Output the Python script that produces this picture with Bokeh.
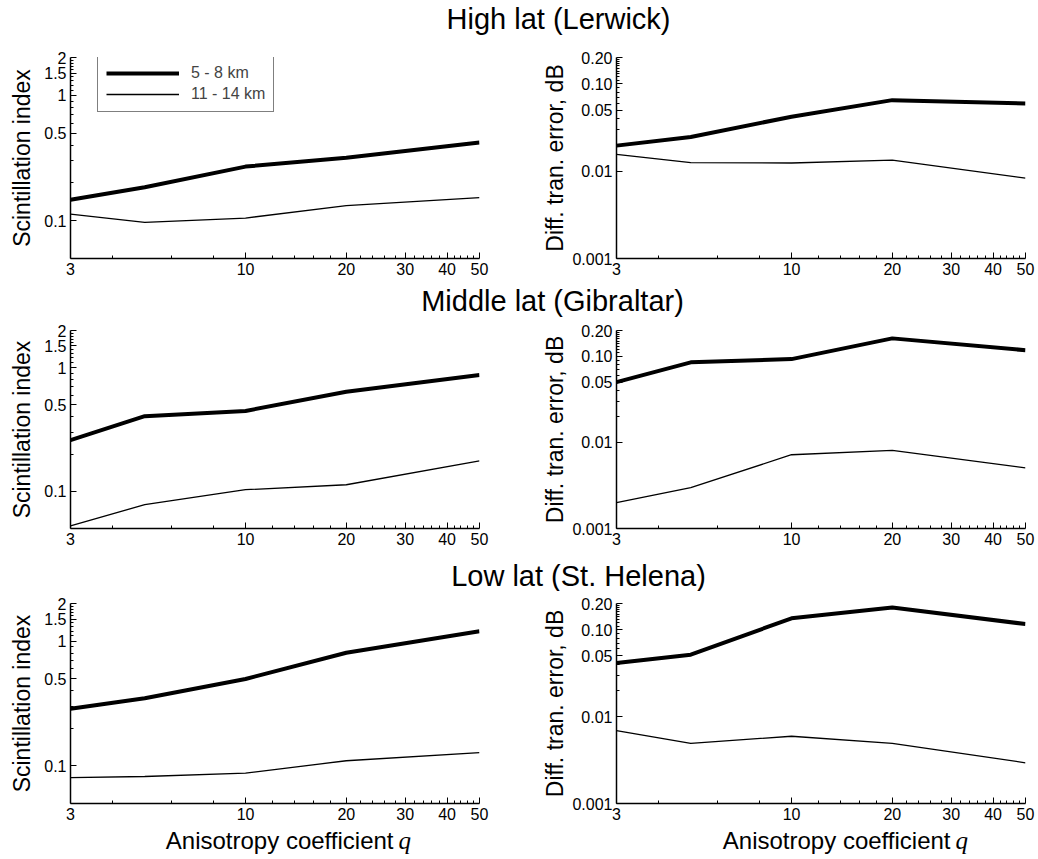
from bokeh.plotting import figure
from bokeh.layouts import column, row
from bokeh.models import FixedTicker, CustomJSTickFormatter, Legend, LegendItem, Range1d
from bokeh.core.properties import value
from bokeh.embed import file_html
from bokeh.resources import INLINE

# ---------------- data ----------------
q = [3, 5, 10, 20, 50]
titles = ["High lat (Lerwick)", "Middle lat (Gibraltar)", "Low lat (St. Helena)"]
series_labels = ["5 - 8 km", "11 - 14 km"]

# Scintillation index
si_high_5_8 = [0.147, 0.185, 0.27, 0.318, 0.42]
si_high_11_14 = [0.113, 0.097, 0.105, 0.132, 0.153]
si_mid_5_8 = [0.259, 0.405, 0.447, 0.638, 0.873]
si_mid_11_14 = [0.0525, 0.078, 0.103, 0.113, 0.176]
si_low_5_8 = [0.287, 0.348, 0.497, 0.807, 1.2]
si_low_11_14 = [0.0807, 0.0823, 0.0875, 0.110, 0.128]

# Differential transmission error, dB
dte_high_5_8 = [0.0196, 0.0246, 0.042, 0.065, 0.0596]
dte_high_11_14 = [0.0156, 0.0125, 0.0124, 0.0134, 0.0083]
dte_mid_5_8 = [0.0502, 0.0853, 0.093, 0.162, 0.118]
dte_mid_11_14 = [0.0020, 0.00298, 0.0072, 0.0081, 0.00507]
dte_low_5_8 = [0.0414, 0.0516, 0.135, 0.18, 0.116]
dte_low_11_14 = [0.0069, 0.00493, 0.00594, 0.00493, 0.00294]

x_major = [3, 10, 20, 30, 40, 50]
x_minor = [4, 6, 8, 12, 14, 16, 18, 22, 24, 26, 28, 32, 34, 36, 38, 42, 44, 46, 48]
si_major = [0.1, 0.5, 1, 1.5, 2]
si_minor = [0.2, 0.3, 0.4, 0.6, 0.7, 0.8, 0.9, 1.1, 1.2, 1.3, 1.4, 1.6, 1.7, 1.8, 1.9]
dte_major = [0.001, 0.01, 0.05, 0.1, 0.2]
dte_minor = [0.02, 0.03, 0.04, 0.06, 0.07, 0.08, 0.09, 0.11, 0.12, 0.13, 0.14,
             0.15, 0.16, 0.17, 0.18, 0.19]

si_label = "Scintillation index"
dte_label = "Diff. tran. error, dB"
xlabel_main = "Anisotropy coefficient"
xlabel_sym = "q"

FONT = "Liberation Sans"
W = 1038
PANEL_W = 519


def style_axis(ax, major, minor, fmt_code, tick_size="16px"):
    ax.ticker = FixedTicker(ticks=major, minor_ticks=minor)
    ax.formatter = CustomJSTickFormatter(code=fmt_code)
    ax.axis_line_color = "black"
    ax.axis_line_width = 1.5
    ax.major_tick_in = 6
    ax.major_tick_out = 0
    ax.minor_tick_in = 3
    ax.minor_tick_out = 0
    ax.major_tick_line_color = "black"
    ax.minor_tick_line_color = "black"
    ax.major_label_text_font = FONT
    ax.major_label_text_font_size = tick_size
    ax.major_label_text_color = "black"


X_FMT = "return String(Number(tick.toPrecision(3)));"
SI_FMT = "return String(Number(tick.toPrecision(3)));"
DTE_FMT = "if (tick >= 0.05) { return tick.toFixed(2); } return String(Number(tick.toPrecision(3)));"


def panel(kind, ys_thick, ys_thin, height, top, bottom, legend=False):
    if kind == "si":
        yr = Range1d(0.05, 2)
        bl, br = 70, 40
    else:
        yr = Range1d(0.001, 0.2)
        bl, br = 97, 13
    p = figure(width=PANEL_W, height=height, x_axis_type="log", y_axis_type="log",
               x_range=Range1d(3, 50), y_range=yr,
               toolbar_location=None, output_backend="svg",
               min_border_left=bl, min_border_right=br,
               min_border_top=top, min_border_bottom=bottom)
    p.grid.visible = False
    p.outline_line_color = None
    p.background_fill_color = "white"
    p.border_fill_color = "white"
    style_axis(p.xaxis[0], x_major, x_minor, X_FMT)
    p.xaxis[0].major_label_standoff = 4
    if kind == "si":
        style_axis(p.yaxis[0], si_major, si_minor, SI_FMT)
        p.yaxis[0].axis_label = si_label
        p.yaxis[0].axis_label_standoff = 6
    else:
        style_axis(p.yaxis[0], dte_major, dte_minor, DTE_FMT)
        p.yaxis[0].axis_label = dte_label
        p.yaxis[0].axis_label_standoff = 1
    p.yaxis[0].major_label_standoff = 4
    p.yaxis[0].axis_label_text_font = FONT
    p.yaxis[0].axis_label_text_font_size = "23px"
    p.yaxis[0].axis_label_text_font_style = "normal"
    p.yaxis[0].axis_label_text_color = "black"

    r1 = p.line(q, ys_thick, line_width=4, line_color="black")
    r2 = p.line(q, ys_thin, line_width=1.3, line_color="black")
    if legend:
        lg = Legend(items=[LegendItem(label=series_labels[0], renderers=[r1]),
                           LegendItem(label=series_labels[1], renderers=[r2])],
                    location=(27, 146))
        lg.border_line_color = "black"
        lg.border_line_width = 1
        lg.background_fill_color = "white"
        lg.background_fill_alpha = 1
        lg.label_text_font = FONT
        lg.label_text_font_size = "16px"
        lg.glyph_width = 73
        lg.glyph_height = 16
        lg.label_standoff = 12
        lg.padding = 8
        lg.spacing = 3
        lg.margin = 0
        p.add_layout(lg)
    return p


def text_strip(height, items):
    f = figure(width=W, height=height, x_range=Range1d(0, W), y_range=Range1d(0, height),
               toolbar_location=None, output_backend="svg",
               x_axis_location=None, y_axis_location=None, min_border=0)
    f.grid.visible = False
    f.outline_line_color = None
    for (x, y_from_top, txt, font, size, style, align) in items:
        f.text(x=[x], y=[height - y_from_top], text=[txt], text_font=value(font),
               text_font_size=size, text_font_style=style, text_align=align,
               text_baseline="middle", text_color="black")
    return f


t1 = text_strip(40, [(558, 18, titles[0], FONT, "29px", "normal", "center")])
row1 = row(panel("si", si_high_5_8, si_high_11_14, 242, 17, 24, legend=True),
           panel("dte", dte_high_5_8, dte_high_11_14, 242, 17, 24))
t2 = text_strip(36, [(552, 18, titles[1], FONT, "29px", "normal", "center")])
row2 = row(panel("si", si_mid_5_8, si_mid_11_14, 235, 12, 25),
           panel("dte", dte_mid_5_8, dte_mid_11_14, 235, 12, 25))
t3 = text_strip(38, [(578, 22, titles[2], FONT, "29px", "normal", "center")])
row3 = row(panel("si", si_low_5_8, si_low_11_14, 236, 12, 24),
           panel("dte", dte_low_5_8, dte_low_11_14, 236, 12, 24))
xl = text_strip(30, [
    (393, 13, xlabel_main, FONT, "24px", "normal", "right"),
    (398, 13, xlabel_sym, "Liberation Serif", "25px", "italic", "left"),
    (950, 13, xlabel_main, FONT, "24px", "normal", "right"),
    (955, 13, xlabel_sym, "Liberation Serif", "25px", "italic", "left"),
])

layout = column(t1, row1, t2, row2, t3, row3, xl, spacing=0)

open("out.html", "w").write(file_html(layout, INLINE))
